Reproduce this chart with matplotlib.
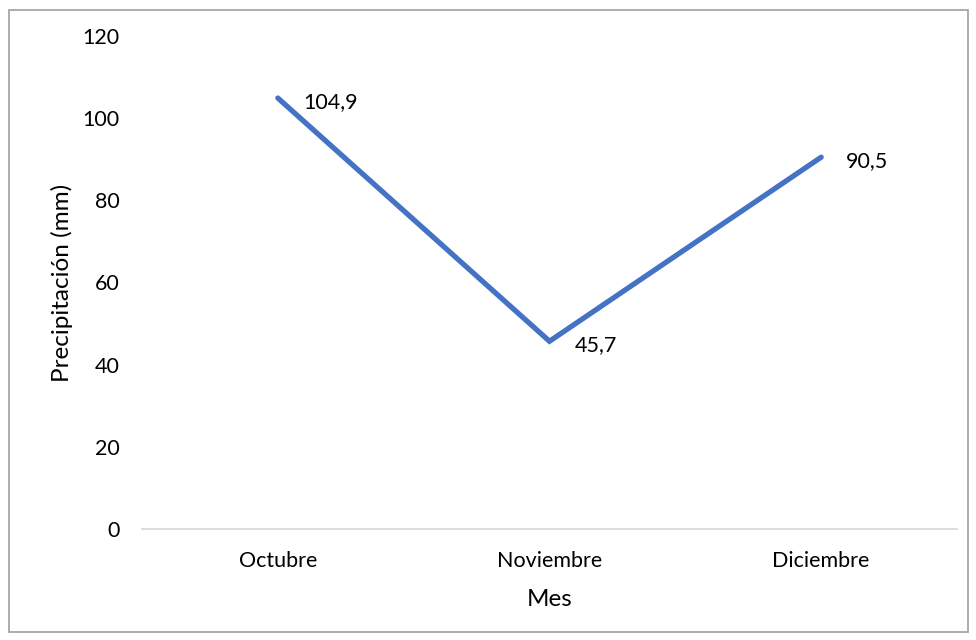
import matplotlib
matplotlib.use("Agg")
import matplotlib.pyplot as plt
from matplotlib.patches import Rectangle

meses = ["Octubre", "Noviembre", "Diciembre"]
precipitacion = [104.9, 45.7, 90.5]
y_ticks = [0, 20, 40, 60, 80, 100, 120]

plt.rcParams["font.family"] = ["Lato", "DejaVu Sans"]

fig = plt.figure(figsize=(9.76, 6.4), dpi=100)
ax = fig.add_axes([142 / 976, 1 - 529 / 640, (957 - 142) / 976, (529 - 36) / 640])

x = list(range(len(meses)))
ax.plot(x, precipitacion, color="#4472C4", linewidth=3.8,
        solid_capstyle="round", solid_joinstyle="miter")

for xi, v in zip(x, precipitacion):
    ax.annotate(f"{v:.1f}".replace(".", ","), (xi, v), xytext=(18, -3),
                textcoords="offset points", ha="left", va="center",
                fontsize=15.5, color="#000000")

ax.set_xlim(-0.5, len(meses) - 0.5)
ax.set_ylim(0, 120)
ax.set_yticks(y_ticks)
ax.set_yticklabels([str(t) for t in y_ticks])
ax.set_xticks(x)
ax.set_xticklabels(meses)
ax.tick_params(axis="both", length=0, labelsize=15.5, colors="#000000")
ax.tick_params(axis="y", pad=16)
ax.tick_params(axis="x", pad=16)

for side in ["top", "right", "left"]:
    ax.spines[side].set_visible(False)
ax.spines["bottom"].set_color("#D9D9D9")
ax.spines["bottom"].set_linewidth(1.3)

ax.set_ylabel("Precipitación (mm)", fontsize=17.5, labelpad=7)
ax.set_xlabel("Mes", fontsize=17.5, labelpad=13)

fig.patches.append(Rectangle((9 / 976, 1 - 632 / 640), (968 - 9) / 976, (632 - 10) / 640,
                             transform=fig.transFigure, fill=False,
                             edgecolor="#A6A6A6", linewidth=1.3))

fig.savefig("out.png", dpi=100)
